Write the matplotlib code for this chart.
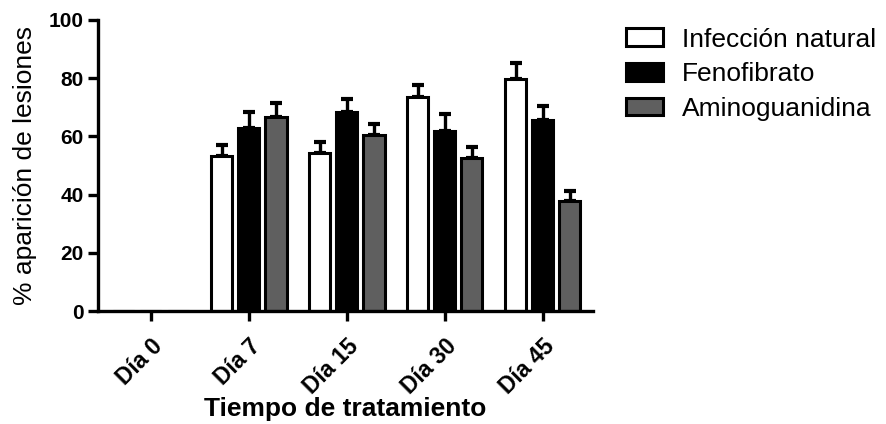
import numpy as np
import matplotlib.pyplot as plt

dias = ["Día 0", "Día 7", "Día 15", "Día 30", "Día 45"]
grupos = ["Infección natural", "Fenofibrato", "Aminoguanidina"]

# % lesions per group (mean) and upper error (SEM)
infeccion = [np.nan, 53.4, 54.4, 73.6, 79.6]
infeccion_err = [np.nan, 3.6, 3.8, 4.1, 5.5]
fenofibrato = [np.nan, 63.0, 68.3, 62.0, 65.5]
fenofibrato_err = [np.nan, 5.5, 4.4, 5.7, 5.0]
aminoguanidina = [np.nan, 66.5, 60.5, 52.5, 37.8]
aminoguanidina_err = [np.nan, 5.1, 3.7, 4.0, 3.5]

colores = ["white", "black", "#5f5f5f"]

plt.rcParams['font.family'] = ['Liberation Sans', 'DejaVu Sans']

fig = plt.figure(figsize=(8.86, 4.24), dpi=100)
ax = fig.add_axes([0.1106, 0.2665, 0.5584, 0.6865])

x = np.arange(len(dias))
ancho = 0.215
desplaz = 0.277
series = [(infeccion, infeccion_err), (fenofibrato, fenofibrato_err),
          (aminoguanidina, aminoguanidina_err)]

for i, (vals, errs) in enumerate(series):
    pos = x + (i - 1) * desplaz
    vals = np.array(vals)
    errs = np.array(errs)
    ax.errorbar(pos, vals, yerr=[np.zeros_like(errs), errs], fmt="none",
                ecolor="black", elinewidth=2.4, capsize=4.5, capthick=3.0, zorder=1)
    ax.bar(pos, np.nan_to_num(vals), width=ancho, color=colores[i],
           edgecolor="black", linewidth=2.2, label=grupos[i], zorder=2)

ax.set_xlim(-0.54, 4.51)
ax.set_ylim(0, 100)
ax.set_yticks([0, 20, 40, 60, 80, 100])
ax.set_xticks(x)
ax.set_xticklabels(dias, rotation=45, ha="right", rotation_mode="anchor")

for lado in ["top", "right"]:
    ax.spines[lado].set_visible(False)
for lado in ["left", "bottom"]:
    ax.spines[lado].set_linewidth(2.4)

ax.tick_params(axis="both", width=2.4, length=7)
ax.tick_params(axis="y", labelsize=15)
ax.tick_params(axis="x", labelsize=16.5, pad=10)
for lab in ax.get_xticklabels() + ax.get_yticklabels():
    lab.set_fontweight("bold")

ax.set_ylabel("% aparición de lesiones", fontsize=19, labelpad=8)
ax.set_xlabel("Tiempo de tratamiento", fontsize=19, fontweight="bold", va="center")
ax.xaxis.set_label_coords(0.5, -0.335)

leg = ax.legend(loc="upper left", bbox_to_anchor=(0.7065, 0.935),
                bbox_transform=fig.transFigure, frameon=False,
                fontsize=19, handlelength=1.4, handleheight=0.65,
                handletextpad=0.72, labelspacing=0.4,
                borderpad=0, borderaxespad=0)

fig.savefig("out.png", dpi=100)
